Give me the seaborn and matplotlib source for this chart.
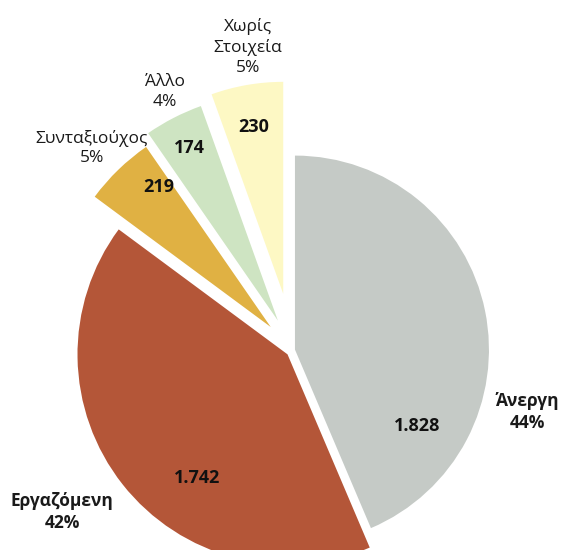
import numpy as np
import matplotlib
matplotlib.use("Agg")
import matplotlib.pyplot as plt
import seaborn as sns

# data
categories = ["Άνεργη", "Εργαζόμενη", "Συνταξιούχος", "Άλλο", "Χωρίς\nΣτοιχεία"]
values = [1828, 1742, 219, 174, 230]
colors = ["#C5CAC6", "#B45638", "#E0B143", "#CEE4C2", "#FDF8C4"]
bold_label = [True, True, False, False, False]

# layout (pixels)
explode_px = [2, 7, 32, 33, 57]
radius_px = [194, 210, 219, 228, 212]
val_pos = [(-32, 0.74), (-126, 0.73), (128.6, 0.82), (None, 0.85), (None, 0.80)]
lab_pos = [(-15, 1.24), (-145, 1.31), (135, 1.155), (116.3, 1.12), (98.1, 1.176)]

sns.set_theme(style="white")
plt.rcParams["font.family"] = ["Open Sans", "DejaVu Sans"]

W, H = 565, 550
fig = plt.figure(figsize=(W / 100, H / 100), dpi=100)
ax = fig.add_axes([0, 0, 1, 1])

center = (293, H - 350)
# explode is in data units (= pixels here)
wedges, _ = ax.pie(values, colors=colors, startangle=90, counterclock=False,
                   radius=200, center=center, explode=explode_px,
                   wedgeprops=dict(linewidth=0))

total = sum(values)
for i, w in enumerate(wedges):
    w.set_radius(radius_px[i])
    cx, cy = w.center
    mid = (w.theta1 + w.theta2) / 2
    r = radius_px[i]

    a, f = val_pos[i]
    a = mid if a is None else a
    ax.text(cx + f * r * np.cos(np.radians(a)), cy + f * r * np.sin(np.radians(a)),
            f"{values[i]:,}".replace(",", "."), ha="center", va="center",
            fontsize=13, fontweight="bold", color="#111111")

    a, f = lab_pos[i]
    pct = round(values[i] / total * 100)
    ax.text(cx + f * r * np.cos(np.radians(a)), cy + f * r * np.sin(np.radians(a)),
            f"{categories[i]}\n{pct}%", ha="center", va="center",
            fontsize=12.5, linespacing=1.3,
            fontweight="bold" if bold_label[i] else "normal", color="#1a1a1a")

ax.set_xlim(0, W)
ax.set_ylim(0, H)
ax.set_aspect("equal")
ax.axis("off")

fig.savefig("out.png", dpi=100, facecolor="white")
